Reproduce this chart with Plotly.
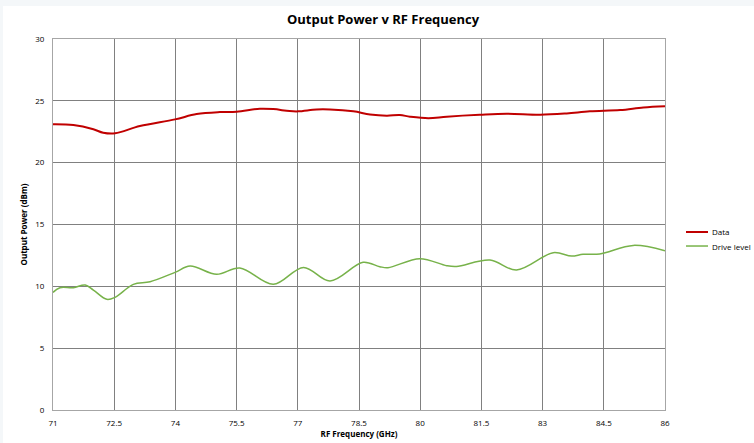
import plotly.graph_objects as go

freq_data = [71.0, 71.5, 71.99, 72.23, 72.52, 73.13, 73.99, 74.52, 75.09, 75.5, 76.07, 76.4, 76.8,
             77.01, 77.46, 77.79, 78.36, 78.77, 79.18, 79.5, 79.75, 80.2, 80.65, 81.46, 82.12,
             82.94, 83.59, 84.16, 84.9, 85.47, 86.0]
power_data = [23.1, 23.04, 22.7, 22.42, 22.37, 22.96, 23.5, 23.93, 24.09, 24.12, 24.36, 24.33, 24.17,
              24.15, 24.3, 24.3, 24.15, 23.9, 23.8, 23.85, 23.72, 23.6, 23.72, 23.87, 23.95,
              23.87, 23.98, 24.15, 24.25, 24.47, 24.57]

freq_drive = [71.0, 71.17, 71.5, 71.79, 71.99, 72.32, 72.52, 72.97, 73.38, 73.99, 74.36, 75.01,
              75.58, 76.4, 77.14, 77.79, 78.6, 79.01, 79.21, 79.99, 80.65, 80.89, 81.71, 82.36,
              83.26, 83.71, 83.99, 84.4, 85.22, 86.0]
drive_level = [9.51, 9.89, 9.89, 10.1, 9.7, 8.95, 9.11, 10.16, 10.37, 11.13, 11.64, 10.97,
               11.48, 10.16, 11.53, 10.43, 11.94, 11.59, 11.51, 12.24, 11.67, 11.61, 12.13, 11.32,
               12.72, 12.45, 12.59, 12.62, 13.31, 12.88]

x_ticks = [71, 72.5, 74, 75.5, 77, 78.5, 80, 81.5, 83, 84.5, 86]
y_ticks = [0, 5, 10, 15, 20, 25, 30]

series_names = ["Data", "Drive level"]
series_colors = ["#C00000", "#77B24A"]

font = "Open Sans, Liberation Sans, sans-serif"

fig = go.Figure()
fig.add_trace(go.Scatter(x=freq_data, y=power_data, name=series_names[0], mode="lines",
                         showlegend=False,
                         line=dict(color=series_colors[0], width=2, shape="spline", smoothing=1.0)))
fig.add_trace(go.Scatter(x=freq_drive, y=drive_level, name=series_names[1], mode="lines",
                         showlegend=False,
                         line=dict(color=series_colors[1], width=1.5, shape="spline", smoothing=1.0)))

# legend drawn manually (right of plot area)
shapes = [dict(type="rect", xref="paper", yref="paper", x0=-0.0817, x1=1.2, y0=-0.1, y1=1.089,
               fillcolor="white", line=dict(width=0), layer="below")]
annotations = []
leg_y = [0.4798, 0.442]
for name, color, yy in zip(series_names, series_colors, leg_y):
    shapes.append(dict(type="line", xref="paper", yref="paper", x0=1.0343, x1=1.0703, y0=yy, y1=yy,
                       line=dict(color=color, width=2 if name == "Data" else 1.5)))
    annotations.append(dict(xref="paper", yref="paper", x=1.073, y=yy, text=name, showarrow=False,
                            xanchor="left", yanchor="middle", font=dict(size=8, color="#000000")))

fig.update_layout(
    width=754, height=443,
    margin=dict(l=53, r=89, t=39, b=33),
    paper_bgcolor="#F4F7F9",
    plot_bgcolor="#B4C7E7",
    title=dict(text="<b>Output Power v RF Frequency</b>", x=0.508, xanchor="center", xref="container",
               y=0.955, yanchor="middle", font=dict(family=font, size=13, color="#000000")),
    font=dict(family=font, size=8, color="#000000"),
    xaxis=dict(range=[71, 86], tickvals=x_ticks, ticktext=[str(t) for t in x_ticks],
               showgrid=True, gridcolor="#808080", gridwidth=1, zeroline=False,
               showline=True, linecolor="#A6A6A6", mirror=True,
               ticks="outside", ticklen=5, tickcolor="rgba(0,0,0,0)",
               tickfont=dict(size=8), automargin=False,
               title=dict(text="<b>RF Frequency (GHz)</b>", font=dict(size=8), standoff=4)),
    yaxis=dict(range=[0, 30], tickvals=y_ticks, showgrid=True, gridcolor="#808080", gridwidth=1,
               zeroline=False, showline=True, linecolor="#A6A6A6", mirror=True,
               ticks="outside", ticklen=6, tickcolor="rgba(0,0,0,0)",
               tickfont=dict(size=8), automargin=False,
               title=dict(text="<b>Output Power (dBm)</b>", font=dict(size=8), standoff=6)),
    showlegend=False,
    shapes=shapes,
    annotations=annotations,
)

fig.write_html("out.html", config={"displayModeBar": False},
               post_script="document.body.style.margin='0';document.body.style.overflow='hidden';")
